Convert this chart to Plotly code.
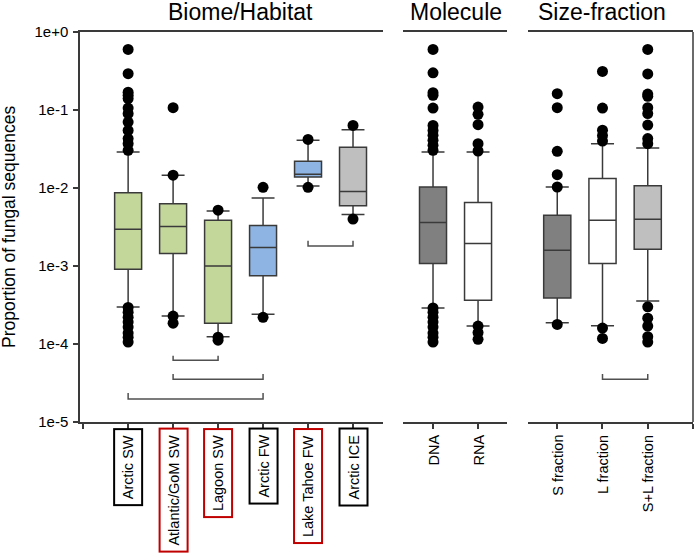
import plotly.graph_objects as go

FONT = "Arial, Liberation Sans, sans-serif"

# ---------------- data ----------------
biome_labels = ["Arctic SW", "Atlantic/GoM SW", "Lagoon SW", "Arctic FW", "Lake Tahoe FW", "Arctic ICE"]
biome_border = ["black", "#C00000", "#C00000", "black", "#C00000", "black"]
biome_colors = ["#C4D79B", "#C4D79B", "#C4D79B", "#8DB4E2", "#8DB4E2", "#BFBFBF"]
biome_q1 = [9.1e-4, 1.45e-3, 1.84e-4, 7.5e-4, 0.0138, 5.9e-3]
biome_med = [2.96e-3, 3.2e-3, 1.0e-3, 1.73e-3, 0.0150, 9.0e-3]
biome_q3 = [8.7e-3, 6.3e-3, 3.86e-3, 3.3e-3, 0.0220, 0.0332]
biome_low = [2.97e-4, 2.28e-4, 1.24e-4, 2.4e-4, 0.0106, 4.57e-3]
biome_up = [0.029, 0.0146, 5.08e-3, 7.45e-3, 0.0408, 0.056]
biome_outliers = [
    [0.597, 0.292, 0.169, 0.154, 0.14, 0.106, 0.0897, 0.07, 0.0548, 0.043, 0.037, 0.0304,
     2.94e-4, 2.56e-4, 2.21e-4, 1.91e-4, 1.65e-4, 1.38e-4, 1.22e-4, 1.06e-4],
    [0.107, 0.0146, 2.28e-4, 1.85e-4],
    [5.2e-3, 1.22e-4, 1.12e-4],
    [0.0102, 2.2e-4],
    [0.042, 0.0102],
    [0.0635, 4.0e-3],
]

mol_labels = ["DNA", "RNA"]
mol_colors = ["#808080", "#FFFFFF"]
mol_q1 = [1.08e-3, 3.65e-4]
mol_med = [3.6e-3, 1.94e-3]
mol_q3 = [0.0103, 6.5e-3]
mol_low = [2.9e-4, 1.7e-4]
mol_up = [0.029, 0.029]
mol_outliers = [
    [0.597, 0.3, 0.167, 0.154, 0.106, 0.0635, 0.0548, 0.0473, 0.0408, 0.0352, 0.0304,
     2.9e-4, 2.56e-4, 2.21e-4, 1.91e-4, 1.65e-4, 1.38e-4, 1.22e-4, 1.06e-4],
    [0.109, 0.088, 0.0648, 0.037, 0.0298, 1.7e-4, 1.4e-4, 1.15e-4],
]

size_labels = ["S fraction", "L fraction", "S+L fraction"]
size_colors = ["#808080", "#FFFFFF", "#BFBFBF"]
size_q1 = [3.9e-4, 1.08e-3, 1.64e-3]
size_med = [1.59e-3, 3.86e-3, 3.97e-3]
size_q3 = [4.47e-3, 0.0132, 0.0107]
size_low = [1.87e-4, 1.71e-4, 3.57e-4]
size_up = [0.0103, 0.037, 0.0325]
size_outliers = [
    [0.162, 0.107, 0.0295, 0.0148, 0.0103, 1.78e-4],
    [0.312, 0.106, 0.055, 0.047, 0.04, 1.6e-4, 1.18e-4],
    [0.597, 0.29, 0.16, 0.15, 0.107, 0.09, 0.064, 0.043, 0.037,
     3.0e-4, 2.14e-4, 1.7e-4, 1.24e-4, 1.06e-4],
]

# significance brackets: (panel, left index, right index, base level, tip level)
bracket_panel = ["x", "x", "x", "x", "x3"]
bracket_left = [1, 1, 0, 4, 1]
bracket_right = [2, 3, 3, 5, 2]
bracket_base = [6.2e-5, 3.52e-5, 1.97e-5, 1.81e-3, 3.52e-5]
bracket_tip = [7.06e-5, 4.12e-5, 2.35e-5, 2.1e-3, 4.12e-5]

panel_titles = ["Biome/Habitat", "Molecule", "Size-fraction"]
y_tickvals = [1e-5, 1e-4, 1e-3, 1e-2, 1e-1, 1e0]
y_ticktext = ["1e-5", "1e-4", "1e-3", "1e-2", "1e-1", "1e+0"]

# ---------------- figure ----------------
fig = go.Figure()
LINE = "#3A3A3A"

panels = [
    ("x", biome_labels, biome_colors, biome_q1, biome_med, biome_q3, biome_low, biome_up, biome_outliers),
    ("x2", mol_labels, mol_colors, mol_q1, mol_med, mol_q3, mol_low, mol_up, mol_outliers),
    ("x3", size_labels, size_colors, size_q1, size_med, size_q3, size_low, size_up, size_outliers),
]

for xa, labels, colors, q1, med, q3, low, up, outs in panels:
    for i in range(len(labels)):
        fig.add_trace(go.Box(
            x=[i], q1=[q1[i]], median=[med[i]], q3=[q3[i]],
            lowerfence=[low[i]], upperfence=[up[i]],
            xaxis=xa, yaxis="y", width=0.6, whiskerwidth=0.85,
            fillcolor=colors[i], line=dict(color=LINE, width=1.5),
            boxpoints=False, showlegend=False, hoverinfo="skip",
        ))
    ox, oy = [], []
    for i, vals in enumerate(outs):
        ox += [i] * len(vals)
        oy += vals
    fig.add_trace(go.Scatter(
        x=ox, y=oy, mode="markers", xaxis=xa, yaxis="y",
        marker=dict(color="black", size=11), showlegend=False, hoverinfo="skip",
    ))

for p, a, b, base, tip in zip(bracket_panel, bracket_left, bracket_right, bracket_base, bracket_tip):
    fig.add_trace(go.Scatter(
        x=[a, a, b, b], y=[tip, base, base, tip], mode="lines",
        xaxis=p, yaxis="y", line=dict(color="#505050", width=1.5),
        showlegend=False, hoverinfo="skip",
    ))

annotations = []
# category labels
for xa, labels, borders in [("x", biome_labels, biome_border),
                            ("x2", mol_labels, [None] * len(mol_labels)),
                            ("x3", size_labels, [None] * len(size_labels))]:
    for i, lab in enumerate(labels):
        bc = borders[i]
        annotations.append(dict(
            x=i, xref=xa, y=0, yref="paper", yanchor="top", xanchor="center",
            yshift=-6, text=lab, textangle=-90, showarrow=False,
            font=dict(family=FONT, size=14.5, color="black"),
            bordercolor=bc if bc else "rgba(0,0,0,0)", borderwidth=2, borderpad=5,
        ))

# panel titles
for xa, title, n in [("x", panel_titles[0], len(biome_labels)),
                     ("x2", panel_titles[1], len(mol_labels)),
                     ("x3", panel_titles[2], len(size_labels))]:
    annotations.append(dict(
        x=(n - 1) / 2, xref=xa, y=1, yref="paper", yanchor="middle", yshift=20,
        text=title, showarrow=False, font=dict(family=FONT, size=23, color="black"),
    ))

annotations.append(dict(
    x=0, xref="paper", y=0.5, yref="paper", xanchor="center", yanchor="middle",
    xshift=-71, text="Proportion of fungal sequences", textangle=-90, showarrow=False,
    font=dict(family=FONT, size=17.5, color="black"),
))

axis_common = dict(showline=True, linecolor=LINE, linewidth=1.5, mirror=True,
                   ticks="outside", ticklen=5, tickcolor=LINE, tickwidth=1.5,
                   showticklabels=False, showgrid=False, zeroline=False, anchor="y")

fig.update_layout(
    width=697, height=560,
    margin=dict(l=80, r=4, t=32, b=138),
    paper_bgcolor="white", plot_bgcolor="white",
    font=dict(family=FONT, size=14, color="black"),
    showlegend=False,
    xaxis=dict(domain=[0, 0.4938], range=[-1.07, 5.66], tickvals=[-1, 0, 1, 2, 3, 4, 5], **axis_common),
    xaxis2=dict(domain=[0.5274, 0.6971], range=[-0.66, 1.65], tickvals=[0, 1], **axis_common),
    xaxis3=dict(domain=[0.7313, 1.0], range=[-0.64, 3.0], tickvals=[0, 1, 2, 3], **axis_common),
    yaxis=dict(type="log", range=[-5, 0], tickvals=y_tickvals, ticktext=y_ticktext,
               showline=True, linecolor=LINE, linewidth=1.5, ticks="outside", ticklen=5,
               tickcolor=LINE, tickwidth=1.5, showgrid=False, zeroline=False,
               tickfont=dict(family=FONT, size=15, color="black"), ticklabelstandoff=2,
               anchor="x"),
    annotations=annotations,
    shapes=[dict(type="line", xref="paper", yref="paper", x0=1, x1=1, y0=0, y1=1,
                 line=dict(color=LINE, width=1.5))],
)

fig.write_html("out.html", config={"displayModeBar": False},
               post_script="document.body.style.margin='0';")
